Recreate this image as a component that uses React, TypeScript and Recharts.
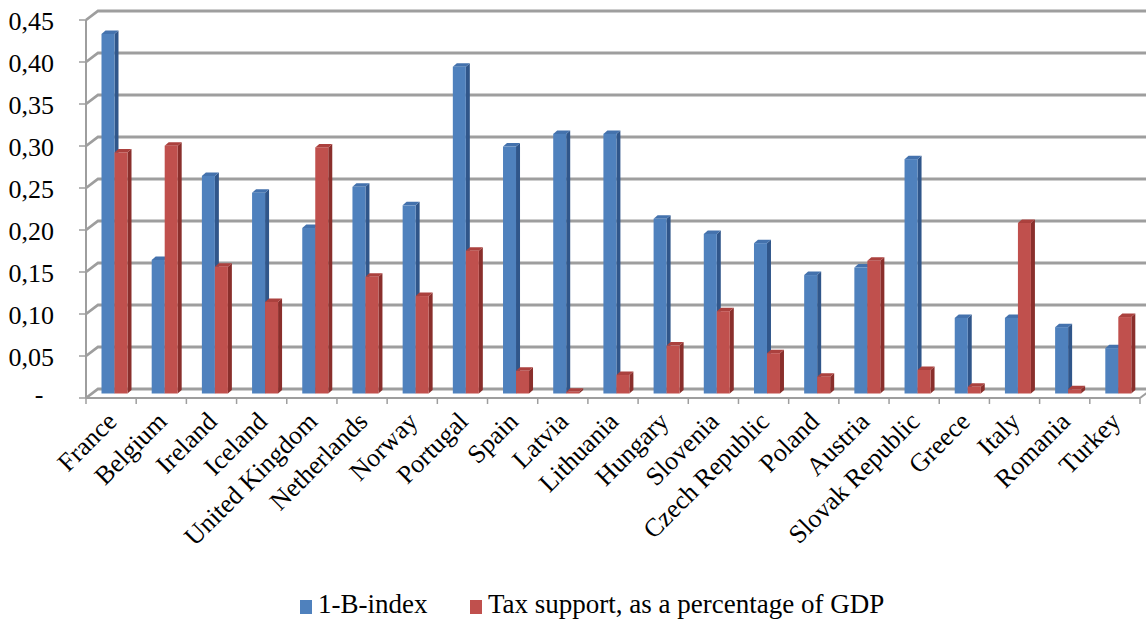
import { BarChart, Bar, XAxis, YAxis, CartesianGrid, Legend } from "recharts";

const countries = [
  "France", "Belgium", "Ireland", "Iceland", "United Kingdom", "Netherlands", "Norway",
  "Portugal", "Spain", "Latvia", "Lithuania", "Hungary", "Slovenia", "Czech Republic",
  "Poland", "Austria", "Slovak Republic", "Greece", "Italy", "Romania", "Turkey",
];
const bIndex = [
  0.428, 0.159, 0.259, 0.239, 0.197, 0.246, 0.224, 0.389, 0.294, 0.309, 0.309,
  0.208, 0.19, 0.179, 0.141, 0.15, 0.279, 0.09, 0.09, 0.079, 0.054,
];
const taxSupport = [
  0.287, 0.295, 0.151, 0.109, 0.293, 0.139, 0.116, 0.17, 0.027, 0.002, 0.022,
  0.057, 0.098, 0.048, 0.02, 0.158, 0.028, 0.008, 0.203, 0.005, 0.091,
];
const yTicks = [0, 0.05, 0.1, 0.15, 0.2, 0.25, 0.3, 0.35, 0.4, 0.45];
const seriesNames = ["1-B-index", "Tax support, as a percentage of GDP"];

const W = 1146;
const H = 619;
const PLOT_LEFT = 86;
const PLOT_RIGHT = 1140;
const PLOT_TOP = 20;
const PLOT_BOTTOM = 398;
// offset of the back wall (fake 3D)
const WALL_DX = 12;
const WALL_DY = 9;
const GRID = "#9e9e9e";
const FONT = "'Liberation Serif', 'Times New Roman', serif";

const BLUE = { front: "#4f81bd", side: "#30568a", top: "#4472ad" };
const RED = { front: "#c0504d", side: "#8a2f2c", top: "#ab413e" };

const data = countries.map((c, i) => ({ country: c, b: bIndex[i], tax: taxSupport[i] }));
const step = (PLOT_RIGHT - PLOT_LEFT) / countries.length;

function Box3D(props: any) {
  const { x, y, width, height, colors } = props;
  if (x == null || y == null) return null;
  const X = x + 3.5;
  const Y = y - 4.5;
  const w = width;
  const h = Math.max(height, 0);
  const d = 4;
  const dy = 3.5;
  return (
    <g>
      <polygon points={`${X + w},${Y} ${X + w + d},${Y - dy} ${X + w + d},${Y + h - dy} ${X + w},${Y + h}`} fill={colors.side} />
      <polygon points={`${X},${Y} ${X + d},${Y - dy} ${X + w + d},${Y - dy} ${X + w},${Y}`} fill={colors.top} />
      <rect x={X} y={Y} width={w} height={h} fill={colors.front} />
    </g>
  );
}

// back wall gridlines, bent to the front axis on the left
const gridLine = (p: any) => {
  const { x1, y1, x2 } = p;
  const yb = y1 - WALL_DY;
  const floor = Math.abs(y1 - PLOT_BOTTOM) < 1;
  return (
    <g key={p.key ?? `grid-${p.index}`}>
      <polyline
        points={`${x1},${y1} ${x1 + WALL_DX},${yb} ${x2 + WALL_DX},${yb}`}
        fill="none"
        stroke={GRID}
        strokeWidth={2.8}
      />
      {floor && <line x1={x2} y1={y1} x2={x2 + WALL_DX} y2={yb} stroke={GRID} strokeWidth={2} />}
    </g>
  );
};

function XTick({ x, payload, index }: any) {
  const last = index === countries.length - 1;
  return (
    <g>
      <line x1={x - step / 2} y1={PLOT_BOTTOM} x2={x - step / 2} y2={PLOT_BOTTOM + 6} stroke={GRID} strokeWidth={1.5} />
      {last && <line x1={x + step / 2} y1={PLOT_BOTTOM} x2={x + step / 2} y2={PLOT_BOTTOM + 6} stroke={GRID} strokeWidth={1.5} />}
      <text
        transform={`translate(${x + 7},${PLOT_BOTTOM + 25}) rotate(-45)`}
        textAnchor="end"
        fontSize={26}
        fontFamily={FONT}
        fill="#000"
      >
        {payload.value}
      </text>
    </g>
  );
}

function YTick({ x, y, payload }: any) {
  if (payload.value === 0) {
    return (
      <text x={39} y={y + 5} textAnchor="middle" fontSize={26} fontFamily={FONT} fill="#000">-</text>
    );
  }
  return (
    <text x={x - 23} y={y + 10} textAnchor="end" fontSize={26} fontFamily={FONT} fill="#000">
      {payload.value.toFixed(2).replace(".", ",")}
    </text>
  );
}

function LegendBox() {
  const colors = [BLUE.front, RED.front];
  const left = [300, 470];
  return (
    <div style={{ position: "relative", width: W, height: 30, fontFamily: FONT }}>
      {seriesNames.map((name, i) => (
        <div key={name}>
          <div style={{ position: "absolute", left: left[i], top: 11, width: 12, height: 14, background: colors[i] }} />
          <span style={{ position: "absolute", left: left[i] + 18, top: 0, fontSize: 27, lineHeight: "30px", whiteSpace: "nowrap", color: "#000" }}>
            {name}
          </span>
        </div>
      ))}
    </div>
  );
}

export default function App() {
  return (
    <div style={{ position: "absolute", left: 0, top: 0, width: W, height: H, background: "#fff" }}>
      <BarChart
        width={W}
        height={H}
        data={data}
        margin={{ top: PLOT_TOP, right: W - PLOT_RIGHT, bottom: 0, left: 0 }}
        barSize={13}
        barGap={0}
      >
        <CartesianGrid vertical={false} horizontal={gridLine} />
        <XAxis
          dataKey="country"
          interval={0}
          height={H - PLOT_BOTTOM}
          tickLine={false}
          axisLine={{ stroke: GRID, strokeWidth: 2 }}
          tick={<XTick />}
        />
        <YAxis
          width={PLOT_LEFT}
          domain={[0, 0.45]}
          ticks={yTicks}
          tickSize={7}
          axisLine={{ stroke: GRID, strokeWidth: 2 }}
          tickLine={{ stroke: GRID, strokeWidth: 1.5 }}
          tick={<YTick />}
        />
        <Legend
          layout="horizontal"
          verticalAlign="middle"
          align="center"
          wrapperStyle={{ top: 589, left: 0, width: W, height: 30 }}
          content={() => <LegendBox />}
        />
        <Bar dataKey="b" name={seriesNames[0]} fill={BLUE.front} isAnimationActive={false} shape={(p: any) => <Box3D {...p} colors={BLUE} />} />
        <Bar dataKey="tax" name={seriesNames[1]} fill={RED.front} isAnimationActive={false} shape={(p: any) => <Box3D {...p} colors={RED} />} />
      </BarChart>
    </div>
  );
}
